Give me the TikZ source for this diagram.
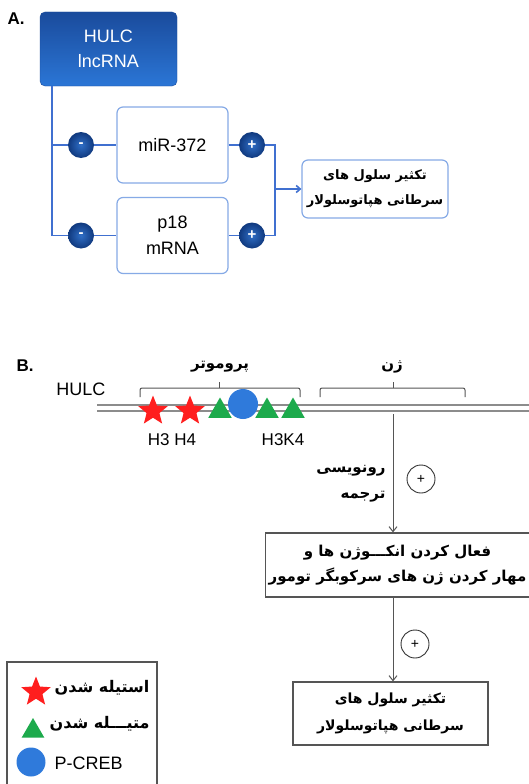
\documentclass[tikz,border=0pt]{standalone}
\usepackage{fontspec}
\setmainfont{Liberation Sans}
\newfontfamily\arabicfont[Script=Arabic]{DejaVu Sans}
\TeXXeTstate=1
\usetikzlibrary{shapes.geometric,arrows.meta}
\newcommand{\pers}[1]{{\arabicfont\bfseries\beginR #1\endR}}
\definecolor{lineblue}{HTML}{4070D0}
\definecolor{boxblue}{HTML}{86AAE6}
\definecolor{hulctop}{HTML}{1A4B9C}
\definecolor{hulcbot}{HTML}{2B76D6}
\definecolor{circin}{HTML}{2F6EC6}
\definecolor{circout}{HTML}{10397E}
\definecolor{dnagray}{HTML}{8C8C8C}
\definecolor{starred}{HTML}{FF1E1E}
\definecolor{trigreen}{HTML}{1DAA4C}
\definecolor{dotblue}{HTML}{2F7ADB}
\definecolor{grayline}{HTML}{555555}
\tikzset{
  hulcbox/.style={rounded corners=5pt, top color=hulctop, bottom color=hulcbot, draw=hulctop,
    text=white, align=center, font=\fontsize{18}{25}\selectfont, minimum width=137pt, minimum height=74pt},
  wbox/.style={rounded corners=6pt, draw=boxblue, line width=1.2pt, fill=white, align=center,
    font=\fontsize{18}{26}\selectfont, minimum width=111pt, minimum height=76pt},
  resbox/.style={rounded corners=6pt, draw=boxblue, line width=1.2pt, fill=white, align=center,
    font=\fontsize{13}{25}\selectfont, minimum width=146pt, minimum height=58pt},
  sgn/.style={circle, inner color=circin, outer color=circout, text=white, minimum size=26pt,
    inner sep=0pt, font=\fontsize{15}{15}\selectfont\bfseries},
  aline/.style={draw=lineblue, line width=1.6pt},
  dna/.style={draw=dnagray, line width=1.8pt},
  bracepath/.style={draw=grayline, line width=1pt, rounded corners=2pt},
  starmark/.style={star, star points=5, star point ratio=2.3, fill=starred, minimum size=31pt, inner sep=0pt},
  trimark/.style={regular polygon, regular polygon sides=3, fill=trigreen, minimum size=27pt, inner sep=0pt},
  dotmark/.style={circle, fill=dotblue, minimum size=30pt, inner sep=0pt},
  gbox/.style={draw=grayline, line width=1.2pt, fill=white, align=center, font=\fontsize{15}{25}\selectfont},
  pluscirc/.style={circle, draw=black!80, line width=0.9pt, minimum size=28pt, inner sep=0pt, font=\fontsize{14}{14}\selectfont},
  arr/.style={draw=grayline, line width=1pt, -{Straight Barb[length=5pt,width=8pt]}},
  lbl/.style={font=\fontsize{18}{20}\selectfont},
  hlab/.style={font=\fontsize{17}{20}\selectfont},
  ptxt/.style={font=\fontsize{15}{26}\selectfont, align=right}
}
\begin{document}
\begin{tikzpicture}[x=1pt,y=-1pt]
\useasboundingbox (0,0) rectangle (529,784);
\fill[white] (0,0) rectangle (529,784);
% ---------- Part A ----------
\node[font=\fontsize{17}{17}\selectfont\bfseries] (labA) at (16,19) {A.};
\node[hulcbox] (hulc) at (108.5,49) {HULC\\lncRNA};
\node[wbox] (mir) at (172.5,145) {miR-372};
\node[wbox] (p18) at (172.5,235.5) {p18\\mRNA};
\node[sgn] (m1) at (81,145) {-};
\node[sgn] (m2) at (81,235.5) {-};
\node[sgn] (p1) at (252,145) {+};
\node[sgn] (p2) at (252,235.5) {+};
\node[resbox] (res) at (375,189) {\pers{تکثیر سلول های}\\\pers{سرطانی هپاتوسلولار}};
\coordinate (trunk) at ([xshift=12pt]hulc.south west);
\coordinate (join) at (275,189);
\draw[aline] (trunk) |- (m2.west);
\draw[aline] (trunk |- m1) -- (m1.west);
\draw[aline] (m1) -- (mir);
\draw[aline] (m2) -- (p18);
\draw[aline] (mir) -- (p1);
\draw[aline] (p18) -- (p2);
\draw[aline] (p1.east) -| (join);
\draw[aline] (p2.east) -| (join);
\draw[aline, -{Straight Barb[length=4pt,width=7pt]}] (join) -- (res.west);
% ---------- Part B ----------
\node[font=\fontsize{17}{17}\selectfont\bfseries] (labB) at (25,366) {B.};
\node[lbl] (hulcB) at (81,389) {HULC};
\draw[dna] (97,405) -- (529,405);
\draw[dna] (97,411) -- (529,411);
% braces
\draw[bracepath] (140,397) -- (140,388) -- (300,388) -- (300,397);
\draw[bracepath] (219,388) -- (219,382);
\draw[bracepath] (320,397) -- (320,388) -- (465,388) -- (465,397);
\draw[bracepath] (393,388) -- (393,382);
\node[font=\fontsize{15}{15}\selectfont] (prom) at (220,367) {\pers{پروموتر}};
\node[font=\fontsize{15}{15}\selectfont] (gene) at (392,367) {\pers{ژن}};
% marks
\node[starmark] (s1) at (153,411) {};
\node[starmark] (s2) at (190,411) {};
\node[trimark] (t1) at (220,411) {};
\node[dotmark] (c1) at (243,404) {};
\node[trimark] (t2) at (267,411) {};
\node[trimark] (t3) at (293,411) {};
\node[hlab] (h3h4) at (172,440) {H3 H4};
\node[hlab] (h3k4) at (283,440) {H3K4};
% flow
\coordinate (gstart) at (393,414);
\node[gbox, minimum width=261pt, minimum height=64pt] (b1) at (397.5,565)
  {\pers{فعال کردن انکـــوژن ها و}\\\pers{مهار کردن ژن های سرکوبگر تومور}};
\node[gbox, minimum width=195pt, minimum height=63pt, font=\fontsize{14}{27}\selectfont] (b2) at (390.5,713.5)
  {\pers{تکثیر سلول های}\\\pers{سرطانی هپاتوسلولار}};
\node[ptxt, anchor=east] (tr) at (389,484) {\pers{رونویسی}\\\pers{ترجمه}};
\node[pluscirc] (pl1) at (421,479) {+};
\node[pluscirc] (pl2) at (415,644) {+};
\draw[arr] (gstart) -- (gstart |- b1.north);
\draw[arr] (b1.south -| gstart) -- (gstart |- b2.north);
% legend
\draw[draw=grayline, line width=1.2pt] (7,662) rectangle (157,800);
\node[starmark, minimum size=31pt] (ls) at (36,692) {};
\node[trimark, minimum size=26pt] (lt) at (33,731) {};
\node[dotmark, minimum size=29pt] (lc) at (31,762) {};
\node[anchor=east, font=\fontsize{16}{16}\selectfont] (lst) at (153,688) {\pers{استیله شدن}};
\node[anchor=east, font=\fontsize{16}{16}\selectfont] (ltt) at (153,724) {\pers{متیـــله شدن}};
\node[anchor=west, lbl] (lct) at (51,763) {P-CREB};
\end{tikzpicture}
\end{document}
